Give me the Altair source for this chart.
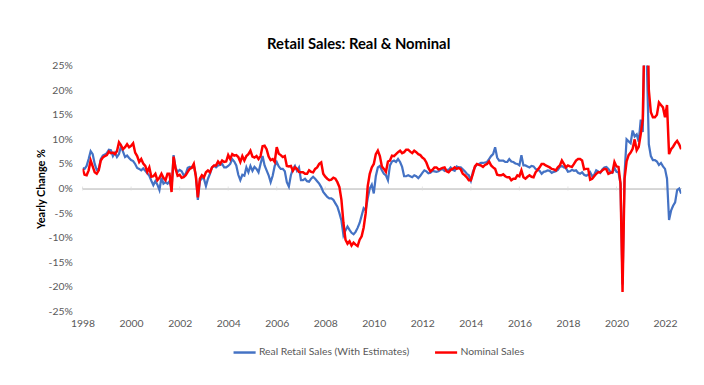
import altair as alt
import pandas as pd

# Monthly year-over-year change (%), Jan 1998 .. Sep 2022
real_sales = [
    4.2, 4.0, 4.6, 6.0, 7.6, 7.0, 5.0, 3.8, 4.0, 6.0, 6.7, 6.9,      # 1998
    7.2, 7.9, 7.8, 6.6, 7.3, 6.4, 7.0, 8.6, 7.5, 6.4, 6.7, 6.2,      # 1999
    5.8, 5.6, 5.0, 4.2, 4.0, 3.7, 4.1, 3.6, 3.1, 2.6, 1.6, 0.7,      # 2000
    1.5, 0.8, -0.3, 2.2, 1.0, 1.3, 1.0, 1.5, 0.0, 6.8, 4.2, 3.4,     # 2001
    3.8, 3.5, 2.7, 3.0, 4.2, 4.4, 4.3, 4.7, 2.7, -2.3, 1.5, 2.1,     # 2002
    2.0, 0.5, 2.0, 3.0, 4.3, 4.6, 4.3, 4.7, 4.8, 5.0, 4.3, 4.3,      # 2003
    4.6, 5.0, 6.0, 5.5, 4.7, 2.8, 1.7, 2.8, 2.6, 4.3, 3.3, 4.6,      # 2004
    3.6, 4.4, 4.0, 3.3, 5.0, 6.6, 4.7, 3.7, 2.7, 1.3, 2.6, 4.6,      # 2005
    5.4, 4.5, 4.0, 4.0, 3.5, 1.3, 0.4, 2.7, 4.0, 4.6, 3.6, 4.3,      # 2006
    1.7, 1.7, 2.0, 1.5, 1.4, 2.0, 2.4, 2.0, 1.5, 1.0, 0.3, -0.7,     # 2007
    -1.2, -1.7, -2.0, -2.0, -2.3, -3.0, -3.7, -5.0, -6.5, -9.5, -8.5, -7.7,  # 2008
    -8.4, -9.0, -9.3, -8.8, -8.0, -7.0, -5.5, -4.0, -4.4, -2.0, 0.0, 0.8,    # 2009
    -1.0, 2.5, 4.3, 4.6, 3.7, 3.0, 2.7, 1.7, 4.7, 5.5, 5.7, 5.4,     # 2010
    6.0, 5.4, 4.4, 2.5, 2.5, 2.7, 2.5, 2.3, 2.7, 2.5, 2.1, 2.6,      # 2011
    3.2, 3.7, 3.5, 3.1, 3.2, 3.6, 3.5, 3.4, 3.5, 3.8, 4.0, 3.6,      # 2012
    3.8, 3.8, 4.3, 3.8, 3.6, 4.5, 4.3, 4.3, 3.9, 3.5, 3.0, 2.7,      # 2013
    1.6, 3.4, 4.3, 4.9, 5.0, 5.2, 5.2, 5.3, 5.4, 6.0, 6.6, 7.0,      # 2014
    8.4, 6.3, 5.7, 5.7, 5.7, 5.4, 5.4, 6.0, 5.5, 5.4, 5.1, 5.0,      # 2015
    4.7, 6.8, 4.7, 4.7, 4.5, 4.3, 4.6, 4.5, 4.0, 3.8, 3.6, 3.0,      # 2016
    3.4, 3.5, 3.7, 3.6, 3.2, 3.4, 3.5, 3.8, 4.4, 4.6, 4.3, 4.2,      # 2017
    3.4, 3.5, 3.8, 3.6, 3.7, 3.2, 3.0, 3.3, 2.8, 2.6, 2.8, 3.3,      # 2018
    2.5, 2.8, 3.7, 3.5, 3.2, 3.9, 4.3, 4.4, 4.0, 3.4, 3.2, 4.2,      # 2019
    3.4, 3.3, 1.0, -19.5, 3.0, 10.0, 9.6, 9.2, 11.8, 10.6, 11.0, 9.5,  # 2020
    14.0, 11.5, 35.0, 26.0, 9.0, 6.6, 5.8, 5.8, 5.5, 4.8, 5.2, 4.5,  # 2021
    4.0, 2.0, -6.4, -4.5, -3.5, -2.8, -0.3, 0.0, -1.0,              # 2022
]

nominal_sales = [
    4.0, 2.8, 2.7, 3.7, 5.7, 4.5, 3.3, 3.0, 3.7, 5.7, 6.3, 6.6,      # 1998
    6.8, 7.5, 7.2, 7.3, 7.0, 7.6, 9.4, 8.8, 8.0, 8.4, 9.0, 8.4,      # 1999
    8.7, 9.2, 7.3, 6.6, 5.4, 6.0, 5.1, 4.6, 3.4, 4.3, 2.4, 2.5,      # 2000
    3.0, 1.7, 2.2, 3.0, 2.2, 1.7, 3.0, 3.0, -0.7, 6.5, 4.0, 2.6,     # 2001
    2.8, 2.2, 2.3, 2.7, 3.4, 4.0, 4.2, 5.0, 2.5, -1.8, 2.0, 2.7,     # 2002
    2.3, 3.3, 3.7, 3.3, 4.3, 4.7, 4.7, 5.5, 5.0, 5.7, 5.4, 5.5,      # 2003
    6.8, 6.0, 7.0, 6.7, 6.8, 6.4, 5.4, 6.6, 5.7, 6.6, 7.0, 7.7,      # 2004
    6.5, 6.3, 6.6, 6.0, 6.6, 8.6, 8.7, 8.0, 6.5, 5.8, 6.0, 5.4,      # 2005
    8.4, 7.1, 6.8, 6.4, 6.6, 4.6, 4.5, 4.6, 3.6, 4.3, 4.0, 3.4,      # 2006
    3.3, 3.3, 3.0, 3.0, 3.7, 3.4, 3.3, 4.0, 4.3, 5.0, 5.3, 3.0,      # 2007
    2.4, 2.0, 1.7, 1.8, 2.2, 2.0, 1.3, 0.3, -2.3, -7.0, -10.4, -11.2,  # 2008
    -10.7, -11.6, -11.0, -11.4, -11.7, -10.4, -9.7, -7.9, -5.0, 0.5, 3.0, 4.3,  # 2009
    5.0, 7.0, 7.7, 6.6, 4.5, 4.0, 3.4, 5.5, 5.7, 6.7, 6.6, 7.0,      # 2010
    7.4, 7.7, 7.2, 7.4, 7.9, 7.9, 7.5, 7.2, 7.7, 7.4, 7.0, 6.8,      # 2011
    6.3, 6.0, 5.3, 4.2, 3.5, 3.8, 4.3, 4.3, 3.9, 4.0, 4.2, 4.3,      # 2012
    3.5, 3.3, 3.8, 4.0, 4.3, 4.0, 4.2, 3.9, 3.0, 2.7, 2.3, 1.7,      # 2013
    1.7, 3.0, 4.5, 5.0, 4.8, 4.7, 4.4, 4.8, 5.0, 5.5, 4.7, 4.3,      # 2014
    4.0, 2.8, 2.7, 2.7, 2.9, 2.5, 2.3, 2.3, 1.7, 2.0, 2.0, 2.7,      # 2015
    2.5, 3.7, 2.3, 2.0, 2.4, 2.7, 2.4, 2.3, 3.3, 3.8, 4.3, 5.0,      # 2016
    5.0, 4.7, 4.5, 4.3, 4.0, 3.9, 3.7, 4.3, 4.7, 5.7, 5.0, 4.3,      # 2017
    4.7, 4.5, 4.4, 5.0, 5.7, 6.0, 6.0, 5.7, 3.9, 4.0, 4.0, 1.8,      # 2018
    2.0, 2.5, 3.0, 3.3, 3.3, 3.7, 4.0, 3.9, 3.0, 3.2, 3.3, 5.4,      # 2019
    4.5, 4.4, 1.0, -21.0, 2.0, 5.5, 6.8, 7.3, 8.1, 10.0, 7.8, 8.5,   # 2020
    11.1, 14.0, 35.0, 45.0, 20.0, 15.5, 14.5, 14.5, 15.0, 17.5, 17.0, 16.5,  # 2021
    14.5, 17.0, 7.0, 8.0, 8.5, 9.2, 9.7, 9.0, 8.0,                  # 2022
]

series_names = ["Real Retail Sales (With Estimates)", "Nominal Sales"]
series_colors = ["#4472C4", "#FF0000"]
x_tick_years = list(range(1998, 2023, 2))
y_tick_values = list(range(-25, 30, 5))

months = [1998 + i / 12 for i in range(len(real_sales))]
df = pd.concat([
    pd.DataFrame({"t": months, "v": real_sales, "series": series_names[0]}),
    pd.DataFrame({"t": months, "v": nominal_sales, "series": series_names[1]}),
])
ticks_df = pd.DataFrame({"year": x_tick_years})

FONT = "Lato"
x_scale = alt.Scale(domain=[1998, 1998 + (len(real_sales) - 1) / 12], nice=False, zero=False)
y_scale = alt.Scale(domain=[-25, 25], nice=False, zero=False)
color = alt.Color(
    "series:N",
    scale=alt.Scale(domain=series_names, range=series_colors),
    legend=alt.Legend(
        title=None, orient="none", legendX=151.5, legendY=278, direction="horizontal",
        symbolType="stroke", symbolSize=500, symbolStrokeWidth=2.5,
        labelFont=FONT, labelFontSize=10.5, labelColor="#595959",
        labelOffset=2, columnPadding=20, padding=0,
    ),
)

x_axis = alt.Axis(values=x_tick_years, format="d", grid=False, domain=False, ticks=False,
                  labelFlush=False, labelOverlap=False,
                  labelPadding=7, labelFont=FONT, labelFontSize=10.5, labelColor="#595959")
y_axis = alt.Axis(values=y_tick_values, labelExpr="datum.value + '%'", grid=False,
                  domain=False, ticks=False, labelPadding=10.5, labelFont=FONT,
                  labelFlush=False, labelOverlap=False,
                  labelFontSize=10.5, labelColor="#595959",
                  titleFont=FONT, titleFontSize=11, titleFontWeight="bold", titleColor="black",
                  titleX=-41.5, titleY=124.5, titleAngle=270, titleAlign="center",
                  titleBaseline="middle")
Y_TITLE = "Yearly Change %"

x_enc = alt.X("t:Q", scale=x_scale, title=None, axis=x_axis)
y_enc = alt.Y("v:Q", scale=y_scale, title=Y_TITLE, axis=y_axis)

zero_rule = alt.Chart(df).mark_rule(color="#D9D9D9", strokeWidth=1).encode(
    y=alt.Y(datum=0, scale=y_scale, title=Y_TITLE, axis=y_axis)
)
x_ticks = alt.Chart(ticks_df).mark_tick(color="#D9D9D9", thickness=1, size=4, orient="vertical").encode(
    x=alt.X("year:Q", scale=x_scale, title=None, axis=x_axis),
    y=alt.Y(datum=0, scale=y_scale, title=Y_TITLE, axis=y_axis),
)
line_real = alt.Chart(df).transform_filter(alt.datum.series == series_names[0]).mark_line(
    strokeWidth=2.25, clip=True
).encode(x=x_enc, y=y_enc, color=color)
line_nom = alt.Chart(df).transform_filter(alt.datum.series == series_names[1]).mark_line(
    strokeWidth=2.5, clip=True
).encode(x=x_enc, y=y_enc, color=color)

chart = alt.layer(zero_rule, x_ticks, line_real, line_nom).properties(
    width=606, height=249,
    padding={"left": 75.5, "top": 56, "right": 15, "bottom": 65},
    autosize=alt.AutoSizeParams(type="none"),
    title=alt.TitleParams("Retail Sales: Real & Nominal", font=FONT, fontSize=15,
                          fontWeight="bold", color="black", anchor="middle", frame="group",
                          dx=-23.5, offset=-3, baseline="alphabetic"),
    background="white",
).configure_view(stroke=None).configure_axis(labelOverlap=False)

chart.save("out.html", embed_options={"renderer": "svg", "actions": False})
